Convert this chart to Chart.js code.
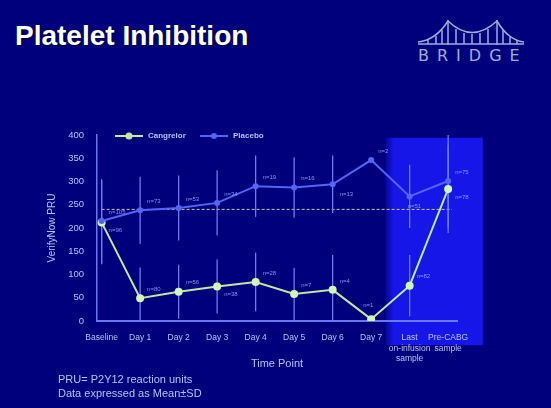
<!DOCTYPE html>
<html>
<head>
<meta charset="utf-8">
<script src="https://cdn.jsdelivr.net/npm/chart.js@4.4.0/dist/chart.umd.min.js"></script>
<style>
  html, body { margin: 0; padding: 0; background: #00007c; }
  #wrap { position: relative; width: 551px; height: 408px; overflow: hidden; background: #00007c; }
  #title { position: absolute; left: 15px; top: 20px; font: bold 28px "Liberation Sans", Arial, sans-serif; color: #ffffff; text-shadow: 1px 1px 2px #000030; }
  #logo { position: absolute; left: 416px; top: 14px; }
  #logoText { position: absolute; left: 418px; top: 46px; font: 16px "DejaVu Sans", sans-serif; letter-spacing: 8px; color: #a0acd8; }
  .note { position: absolute; left: 58px; font: 11px "Liberation Sans", Arial, sans-serif; color: #b8c0f0; }
  canvas { position: absolute; left: 0; top: 0; }
</style>
</head>
<body>
<div id="wrap">
  <div id="title">Platelet Inhibition</div>
  <svg id="logo" width="110" height="34" viewBox="0 0 110 34">
    <g stroke="#a0acd8" fill="none" stroke-width="1.5">
      <line x1="2" y1="30" x2="108" y2="30"/>
      <line x1="32" y1="6" x2="32" y2="31"/>
      <line x1="81" y1="6" x2="81" y2="31"/>
      <path d="M2 28 Q20 26 32 7 Q56 30 81 7 Q92 26 108 28"/>
      <line x1="12" y1="26" x2="12" y2="30"/><line x1="20" y1="22" x2="20" y2="30"/><line x1="26" y1="16" x2="26" y2="30"/>
      <line x1="40" y1="15" x2="40" y2="30"/><line x1="48" y1="19" x2="48" y2="30"/><line x1="56" y1="20" x2="56" y2="30"/>
      <line x1="64" y1="19" x2="64" y2="30"/><line x1="72" y1="15" x2="72" y2="30"/>
      <line x1="87" y1="16" x2="87" y2="30"/><line x1="94" y1="23" x2="94" y2="30"/><line x1="101" y1="26" x2="101" y2="30"/>
    </g>
  </svg>
  <div id="logoText">BRIDGE</div>
  <canvas id="chart" width="551" height="408"></canvas>
  <div class="note" style="top:373px">PRU= P2Y12 reaction units</div>
  <div class="note" style="top:387px">Data expressed as Mean±SD</div>
</div>
<script>
// Data
const timePoints = ["Baseline", "Day 1", "Day 2", "Day 3", "Day 4", "Day 5", "Day 6", "Day 7",
  ["Last", "on-infusion", "sample"], ["Pre-CABG", "sample"]];
const cangrelorMean = [212, 49, 63, 74, 84, 58, 67, 4, 76, 284];
const cangrelorSD = [90, 66, 58, 58, 63, 56, 75, null, 66, 95];
const cangrelorN = ["n=96", "n=80", "n=56", "n=38", "n=28", "n=7", "n=4", "n=1", "n=82", "n=78"];
const placeboMean = [215, 238, 243, 254, 290, 287, 294, 346, 268, 301];
const placeboSD = [90, 72, 70, 70, 66, 65, 62, null, 68, 100];
const placeboN = ["n=105", "n=73", "n=53", "n=34", "n=19", "n=16", "n=13", "n=2", "n=51", "n=75"];
const referenceLine = 240;
const yTicks = [0, 50, 100, 150, 200, 250, 300, 350, 400];

const textColor = "#b8c0f0";
const axisColor = "#6a78f0";
const cangColor = "#c0e8a0";
const placColor = "#5464f4";

// Draws shaded on-infusion panel, reference line, error bars, n labels and legend
const extras = {
  id: "extras",
  beforeDraw(chart) {
    const { ctx, scales: { x, y } } = chart;
    const left = x.getPixelForValue(7.38);
    const right = x.getPixelForValue(9.9);
    const top = y.getPixelForValue(394);
    const bottom = y.getPixelForValue(-52);
    ctx.save();
    const g = ctx.createLinearGradient(left, 0, left + 8, 0);
    g.addColorStop(0, "rgba(22,22,232,0.3)");
    g.addColorStop(1, "rgba(22,22,232,1)");
    ctx.fillStyle = g;
    ctx.fillRect(left, top, right - left, bottom - top);
    ctx.restore();
  },
  beforeDatasetsDraw(chart) {
    const { ctx, chartArea, scales: { x, y } } = chart;
    ctx.save();
    // reference line
    ctx.strokeStyle = "#c8c898";
    ctx.lineWidth = 1;
    ctx.setLineDash([3, 2]);
    ctx.beginPath();
    ctx.moveTo(x.getPixelForValue(0), y.getPixelForValue(referenceLine));
    ctx.lineTo(x.getPixelForValue(9.1), y.getPixelForValue(referenceLine));
    ctx.stroke();
    ctx.setLineDash([]);
    // error bars
    ctx.strokeStyle = "#6c7cf0";
    ctx.lineWidth = 1.3;
    [[cangrelorMean, cangrelorSD], [placeboMean, placeboSD]].forEach(([m, sd]) => {
      m.forEach((v, i) => {
        if (sd[i] == null) return;
        const px = x.getPixelForValue(i);
        const y1 = Math.min(y.getPixelForValue(v - sd[i]), chartArea.bottom);
        const y2 = Math.max(y.getPixelForValue(v + sd[i]), chartArea.top);
        ctx.beginPath();
        ctx.moveTo(px, y1);
        ctx.lineTo(px, y2);
        ctx.stroke();
      });
    });
    ctx.restore();
  },
  afterDatasetsDraw(chart) {
    const { ctx, chartArea, scales: { x, y } } = chart;
    ctx.save();
    ctx.font = "6px 'Liberation Sans', Arial, sans-serif";
    ctx.fillStyle = "rgba(150,160,255,0.9)";
    ctx.textBaseline = "middle";
    const cangBelow = [true, false, false, true, false, false, false, false, false, true];
    const placBelow = [false, false, false, false, false, false, true, false, true, false];
    cangrelorMean.forEach((v, i) => {
      const px = x.getPixelForValue(i) + (i === 7 ? -8 : 7);
      const py = y.getPixelForValue(v) + (i === 7 ? -14 : (cangBelow[i] ? 8 : -9));
      ctx.fillText(cangrelorN[i], px, py);
    });
    placeboMean.forEach((v, i) => {
      const px = x.getPixelForValue(i) + (i === 8 ? -2 : 7);
      const py = y.getPixelForValue(v) + (placBelow[i] ? 10 : -9);
      ctx.fillText(placeboN[i], px, py);
    });
    // legend
    const ly = chartArea.top + 1;
    const items = [
      { x: chartArea.left + 18, label: "Cangrelor", color: cangColor, r: 3.5 },
      { x: chartArea.left + 103, label: "Placebo", color: placColor, r: 3 }
    ];
    ctx.font = "bold 8px 'Liberation Sans', Arial, sans-serif";
    items.forEach((it) => {
      ctx.strokeStyle = it.color;
      ctx.lineWidth = 2;
      ctx.beginPath();
      ctx.moveTo(it.x, ly);
      ctx.lineTo(it.x + 28, ly);
      ctx.stroke();
      ctx.fillStyle = it.color;
      ctx.beginPath();
      ctx.arc(it.x + 14, ly, it.r, 0, Math.PI * 2);
      ctx.fill();
      ctx.fillStyle = textColor;
      ctx.fillText(it.label, it.x + 33, ly);
    });
    ctx.restore();
  }
};

const ctx = document.getElementById("chart").getContext("2d");
new Chart(ctx, {
  type: "line",
  data: {
    datasets: [
      {
        label: "Placebo",
        data: placeboMean.map((v, i) => ({ x: i, y: v })),
        borderColor: placColor,
        backgroundColor: placColor,
        borderWidth: 2,
        pointRadius: 3,
        pointBorderWidth: 0,
        tension: 0
      },
      {
        label: "Cangrelor",
        data: cangrelorMean.map((v, i) => ({ x: i, y: v })),
        borderColor: cangColor,
        backgroundColor: "#d0f8b8",
        borderWidth: 2,
        pointRadius: 4,
        pointBorderWidth: 0,
        tension: 0
      }
    ]
  },
  options: {
    responsive: false,
    animation: false,
    layout: { padding: { left: 42, right: 94, top: 135, bottom: 33 } },
    plugins: { legend: { display: false }, tooltip: { enabled: false } },
    scales: {
      x: {
        type: "linear",
        min: -0.12,
        max: 9.23,
        afterBuildTicks: (scale) => { scale.ticks = timePoints.map((t, i) => ({ value: i })); },
        afterFit: (scale) => { scale.height = 54; },
        grid: { display: false },
        border: { color: axisColor, width: 2 },
        ticks: {
          autoSkip: false,
          maxRotation: 0,
          padding: 4,
          color: textColor,
          font: { family: "'Liberation Sans', Arial, sans-serif", size: 8.5 },
          callback: (v) => timePoints[v]
        },
        title: {
          display: true,
          text: "Time Point",
          color: textColor,
          font: { family: "'Liberation Sans', Arial, sans-serif", size: 11 }
        }
      },
      y: {
        min: 0,
        max: 400,
        afterBuildTicks: (scale) => { scale.ticks = yTicks.map((v) => ({ value: v })); },
        afterFit: (scale) => { scale.width = 55; },
        grid: { display: false },
        border: { color: axisColor, width: 1.5 },
        ticks: {
          padding: 5,
          color: textColor,
          font: { family: "'Liberation Sans', Arial, sans-serif", size: 9.5 }
        },
        title: {
          display: true,
          text: "VerifyNow PRU",
          color: textColor,
          font: { family: "'Liberation Sans', Arial, sans-serif", size: 10 }
        }
      }
    }
  },
  plugins: [extras]
});
</script>
</body>
</html>
